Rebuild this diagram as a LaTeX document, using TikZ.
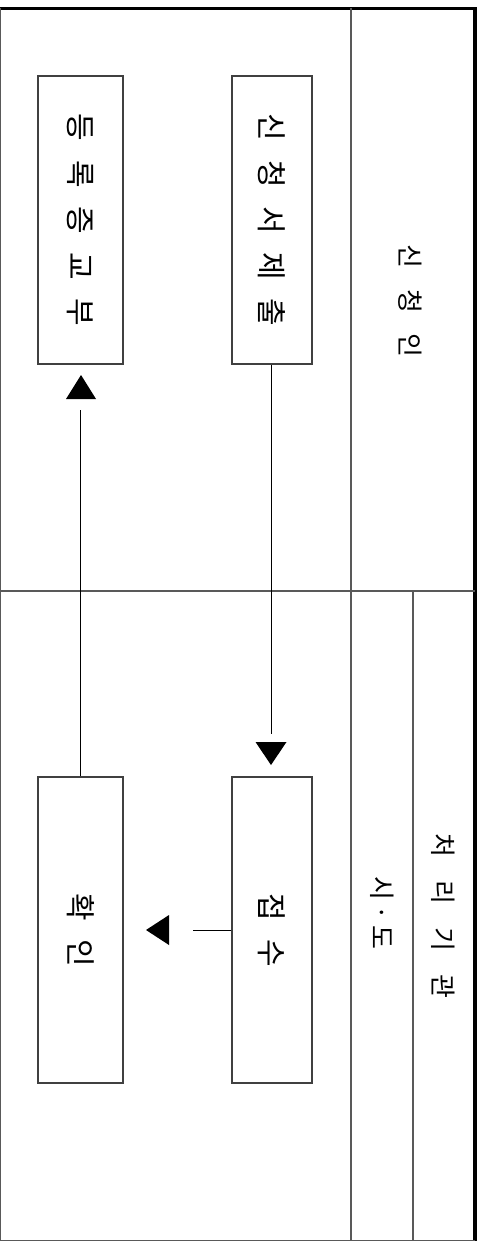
\documentclass[tikz,border=0pt]{standalone}
\usepackage{fontspec}
\newfontfamily\kr{Noto Sans CJK KR}
\begin{document}
\begin{tikzpicture}[x=1pt,y=-1pt,
  frame/.style={line width=3.6pt,black},
  grid/.style={line width=1.1pt,black!65},
  box/.style={draw=black!75,line width=1.1pt,inner sep=0pt,minimum width=80pt,minimum height=288pt,font=\kr\fontsize{30}{32}\selectfont},
  wbox/.style={box,minimum width=85pt},
  tall/.style={minimum height=306pt},
  headtext/.style={inner sep=0pt,font=\kr\fontsize{26}{28}\selectfont},
  conn/.style={line width=1pt,black},
  tip/.style={fill=black,draw=none}]
\useasboundingbox (0,0) rectangle (483,1241);
\clip (0,0) rectangle (483,1241);
% frame
\coordinate (tr) at (475,8.5);
\coordinate (br) at (475,1243);
\draw[frame] (-2,8.5) -- (tr) -- (br);
\draw[grid] (0.6,8.5) -- (0.6,1241);
\draw[grid] (0,1240.4) -- (475,1240.4);
% grid lines
\coordinate (hl) at (0,591);
\coordinate (hr) at (475,591);
\draw[grid] (hl) -- (hr);
\coordinate (v1t) at (351,8.5);
\coordinate (v1b) at (351,1241);
\draw[grid] (v1t) -- (v1b);
\coordinate (v2t) at (413,591);
\coordinate (v2b) at (413,1241);
\draw[grid] (v2t) -- (v2b);
% headers
\node[headtext] (app) at (410,301) {\rotatebox{-90}{신\hspace{21pt}청\hspace{21pt}인}};
\node[headtext] (org) at (443,916) {\rotatebox{-90}{처\hspace{23pt}리\hspace{23pt}기\hspace{23pt}관}};
\node[headtext] (sido) at (382,913) {\rotatebox{-90}{시\hspace{5pt}·\hspace{5pt}도}};
% boxes
\node[box] (submit) at (272,220) {\rotatebox{-90}{신\hspace{18.5pt}청\hspace{18.5pt}서\hspace{18.5pt}제\hspace{18.5pt}출}};
\node[wbox] (issue) at (80.5,220) {\rotatebox{-90}{등\hspace{18.5pt}록\hspace{18.5pt}증\hspace{18.5pt}교\hspace{18.5pt}부}};
\node[box,tall] (recv) at (272,930) {\rotatebox{-90}{접\hspace{18.5pt}수}};
\node[wbox,tall] (check) at (80.5,930) {\rotatebox{-90}{확\hspace{18.5pt}인}};
% connectors
\coordinate (e1) at (271,734);
\draw[conn] (submit.south -| e1) -- (e1);
\coordinate (t1) at (271,765);
\fill[tip] (t1) -- ++(-15.5,-23) -- ++(31,0) -- cycle;
\coordinate (e2) at (80,410);
\draw[conn] (check.north -| e2) -- (e2);
\coordinate (t2) at (81,375);
\fill[tip] (t2) -- ++(-15,24) -- ++(30,0) -- cycle;
\coordinate (e3) at (193,930);
\draw[conn] (recv.west) -- (e3);
\coordinate (t3) at (146,930);
\fill[tip] (t3) -- ++(23,-15) -- ++(0,30) -- cycle;
\end{tikzpicture}
\end{document}
